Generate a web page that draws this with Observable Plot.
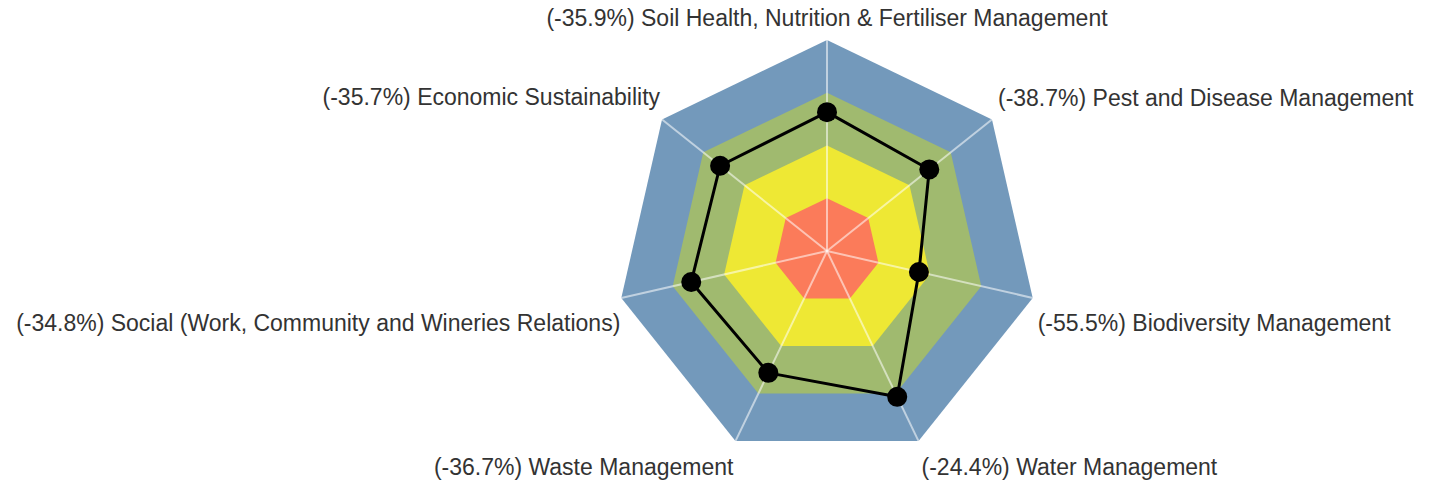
<!DOCTYPE html>
<html>
<head>
<meta charset="utf-8">
<script src="https://cdn.jsdelivr.net/npm/d3@7"></script>
<script src="https://cdn.jsdelivr.net/npm/@observablehq/plot@0.6"></script>
<style>
  html, body { margin: 0; padding: 0; background: #fff; }
  #chart svg { display: block; }
</style>
</head>
<body>
<div id="chart"></div>
<script>
// ---- data ----
const categories = [
  "Soil Health, Nutrition & Fertiliser Management",
  "Pest and Disease Management",
  "Biodiversity Management",
  "Water Management",
  "Waste Management",
  "Social (Work, Community and Wineries Relations)",
  "Economic Sustainability"
];
const changeLabels = ["-35.9%", "-38.7%", "-55.5%", "-24.4%", "-36.7%", "-34.8%", "-35.7%"];
const scores = [65.8, 62.0, 44.7, 76.7, 64.1, 66.0, 64.8];
const bandLevels = [100, 75, 50, 25];
const bandColors = ["#7399bb", "#a0ba6f", "#eee834", "#fb7b5a"];
const maxScore = 100;

// ---- layout ----
const W = 1434, H = 487;
const cx = 826.5, cy = 250.5, R = 211;
const n = categories.length;
const ang = i => i * 2 * Math.PI / n;
const pt = (i, r) => ({x: (r / maxScore) * Math.sin(ang(i)), y: (r / maxScore) * Math.cos(ang(i))});

const bands = [];
bandLevels.forEach((lvl, b) => {
  for (let i = 0; i <= n; i++) bands.push({...pt(i % n, lvl), band: b, color: bandColors[b]});
});
const spokes = categories.map((c, i) => ({...pt(i, maxScore), cat: c}));
const series = [];
for (let i = 0; i <= n; i++) series.push({...pt(i % n, scores[i % n])});
const dots = scores.map((s, i) => ({...pt(i, s), cat: categories[i]}));

const labelOpts = [
  {anchor: "middle", dx: 0, dy: -21},
  {anchor: "start", dx: 6, dy: -21},
  {anchor: "start", dx: 5, dy: 26},
  {anchor: "start", dx: 3, dy: 27},
  {anchor: "end", dx: -2, dy: 27},
  {anchor: "end", dx: -1, dy: 26},
  {anchor: "end", dx: -2, dy: -22}
];
const labels = categories.map((c, i) => ({...pt(i, maxScore), text: `(${changeLabels[i]}) ${c}`, ...labelOpts[i]}));

const textMarks = labels.map(l => Plot.text([l], {
  x: "x", y: "y", text: "text", textAnchor: l.anchor, dx: l.dx, dy: l.dy,
  fill: "#333", fontSize: 23, fontFamily: "Liberation Sans, Arial, sans-serif"
}));

const chart = Plot.plot({
  width: W, height: H,
  margin: 0,
  x: {domain: [-cx / R, (W - cx) / R], range: [0, W], axis: null},
  y: {domain: [(cy - H) / R, cy / R], range: [H, 0], axis: null},
  style: {background: "#fff", fontFamily: "Liberation Sans, Arial, sans-serif"},
  marks: [
    Plot.line(bands, {x: "x", y: "y", z: "band", fill: "color", stroke: "none", curve: "linear"}),
    Plot.link(spokes, {x1: 0, y1: 0, x2: "x", y2: "y", stroke: "#fff", strokeOpacity: 0.55, strokeWidth: 2}),
    Plot.line(series, {x: "x", y: "y", stroke: "#000", strokeWidth: 3, curve: "linear"}),
    Plot.dot(dots, {x: "x", y: "y", r: 10, fill: "#000", stroke: "none"}),
    ...textMarks
  ]
});
document.getElementById("chart").appendChild(chart);
</script>
</body>
</html>
